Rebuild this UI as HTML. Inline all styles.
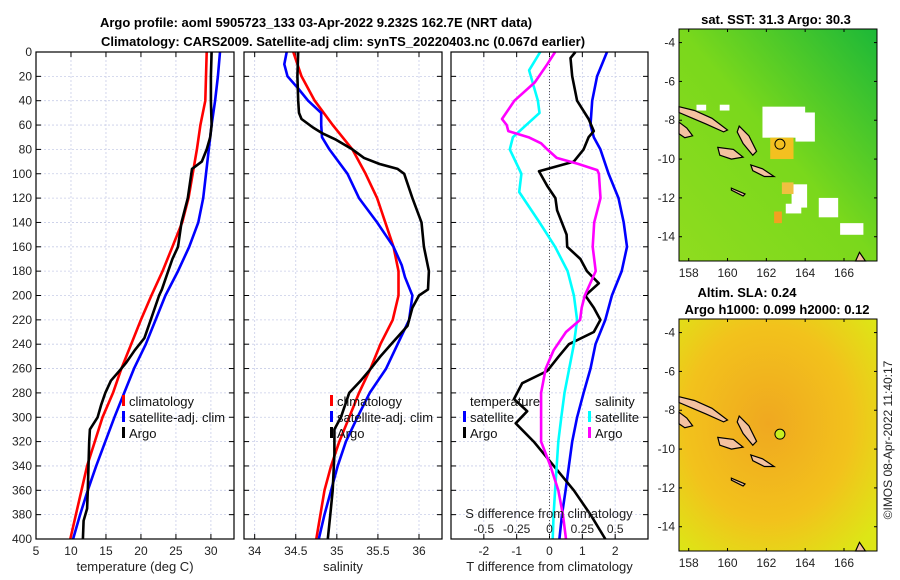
<!DOCTYPE html>
<html><head><meta charset="utf-8">
<style>
html,body{margin:0;padding:0;background:#fff;}
svg{display:block;font-family:"Liberation Sans","DejaVu Sans",sans-serif;}
.tk{font-size:12px;fill:#222;}
.ttl{font-size:13px;font-weight:bold;fill:#000;}
.lg{font-size:13px;fill:#111;}
</style></head>
<body>
<svg id="fig" width="900" height="580" viewBox="0 0 900 580" xmlns="http://www.w3.org/2000/svg">
<rect width="900" height="580" fill="#fff"/>
<text class="ttl" x="316" y="27" text-anchor="middle">Argo profile: aoml 5905723_133 03-Apr-2022 9.232S 162.7E (NRT data)</text>
<text class="ttl" x="343" y="46" text-anchor="middle">Climatology: CARS2009. Satellite-adj clim: synTS_20220403.nc (0.067d earlier)</text>
<g id="p1"></g>
<g id="p2"></g>
<g id="p3"></g>
<g id="m1"></g>
<g id="m2"></g>
<text x="892" y="440" transform="rotate(-90 892 440)" text-anchor="middle" style="font-size:12px;fill:#222">©IMOS 08-Apr-2022 11:40:17</text>
</svg>
<script>
// ---- data ----
const tClimDepth=[0,40,60,80,100,120,140,160,180,200,220,240,260,280,300,320,340,360,380,400];
const tClim=[29.4,29.2,28.5,28.0,27.4,26.8,25.9,24.5,23.1,21.5,20.0,18.6,17.2,16.0,14.5,13.4,12.3,11.5,10.7,9.9];
const tSatDepth=[0,20,40,60,80,100,120,140,160,180,200,220,240,260,280,300,320,340,360,380,400];
const tSat=[31.3,31.0,30.6,30.1,29.7,29.3,28.9,28.2,26.9,25.3,23.5,22.1,20.7,19.0,17.6,16.2,14.9,13.6,12.4,11.3,10.3];
const tArgoDepth=[0,20,40,60,70,80,90,96,100,120,140,160,170,180,195,200,220,235,245,255,262,270,280,290,300,310,320,340,360,375,385,400];
const tArgo=[30.1,30.0,30.0,30.1,29.9,29.4,28.7,27.3,27.2,26.7,25.8,25.3,24.5,23.9,23.0,22.6,21.4,20.5,19.1,17.9,16.9,15.7,14.9,14.3,13.8,12.7,12.6,12.5,12.4,12.3,11.8,11.7];
const sClimDepth=[0,20,40,60,80,100,120,140,160,180,200,220,240,260,280,300,320,340,360,380,400];
const sClim=[34.47,34.57,34.73,34.95,35.19,35.35,35.49,35.59,35.69,35.75,35.75,35.68,35.53,35.41,35.27,35.15,35.03,34.93,34.85,34.80,34.75];
const sSatDepth=[0,10,20,30,40,50,60,70,80,100,120,140,160,175,185,200,220,240,260,280,300,320,340,360,380,400];
const sSat=[34.39,34.36,34.40,34.53,34.65,34.81,34.81,34.82,34.91,35.13,35.27,35.49,35.69,35.79,35.83,35.92,35.88,35.74,35.60,35.40,35.25,35.11,35.01,34.93,34.85,34.78];
const sArgoDepth=[0,20,40,50,55,62,67,72,80,87,92,96,100,120,140,160,180,195,200,210,225,240,250,262,270,280,300,310,330,360,380,400];
const sArgo=[34.53,34.52,34.53,34.54,34.57,34.71,34.83,34.99,35.19,35.33,35.52,35.74,35.82,35.92,36.03,36.06,36.12,36.11,36.0,35.92,35.86,35.66,35.53,35.39,35.29,35.15,35.05,34.97,34.97,34.95,34.92,34.89];
const dtSatDepth=[0,20,40,60,70,80,100,120,140,160,180,200,220,240,260,280,300,320,340,360,380,400];
const dtSat=[1.75,1.45,1.30,1.25,1.35,1.55,1.80,2.1,2.26,2.36,2.2,1.9,1.7,1.4,1.25,1.04,0.84,0.69,0.59,0.49,0.38,0.30];
const dtArgoDepth=[0,5,20,40,55,65,70,80,90,98,110,120,130,150,160,170,180,190,200,210,220,230,240,250,262,272,285,295,305,320,340,360,380,400];
const dtArgo=[0.79,0.64,0.69,0.84,1.19,1.35,1.19,1.04,0.74,-0.32,-0.07,0.18,0.23,0.52,0.54,0.94,1.14,1.5,1.09,1.35,1.55,1.35,0.59,0.28,-0.07,-0.83,-1.08,-0.68,-1.03,-0.48,0.13,0.74,1.25,1.70];
const dsSatDepth=[0,15,40,50,70,80,100,115,140,160,180,200,220,240,260,280,300,320,340,360,380,400];
const dsSat=[-0.071,-0.155,-0.088,-0.076,-0.279,-0.302,-0.214,-0.231,-0.076,0.043,0.138,0.186,0.21,0.186,0.15,0.114,0.09,0.067,0.055,0.043,0.031,0.024];
const dsArgoDepth=[0,10,25,40,55,60,65,70,75,80,87,92,97,100,120,140,160,180,200,210,220,230,245,260,280,300,320,340,360,380,400];
const dsArgo=[0.043,-0.017,-0.112,-0.267,-0.362,-0.326,-0.314,-0.16,-0.064,-0.017,0.055,0.221,0.364,0.376,0.388,0.34,0.329,0.352,0.269,0.245,0.233,0.126,0.031,-0.029,-0.064,-0.064,-0.064,0.007,0.067,0.102,0.126];
const depthTicks=[0,20,40,60,80,100,120,140,160,180,200,220,240,260,280,300,320,340,360,380,400];
const tTicks=[5,10,15,20,25,30];
const sTicks=[34,34.5,35,35.5,36];
const sTickLabels=["34","34.5","35","35.5","36"];
const dTTicks=[-2,-1,0,1,2];
const dSTicks=[-0.5,-0.25,0,0.25,0.5];
const dSTickLabels=["-0.5","-0.25","0","0.25","0.5"];
const lonTicks=[158,160,162,164,166];
const latTicks=[-4,-6,-8,-10,-12,-14];
const argoLon=162.7, argoLat=-9.232;

const NS="http://www.w3.org/2000/svg";
function mk(tag,at,parent){const e=document.createElementNS(NS,tag);for(const k in at)e.setAttribute(k,at[k]);parent.appendChild(e);return e;}
const Y0=52,Y1=539;
const yD=d=>Y0+(Y1-Y0)*d/400;

function panel(g,x0,x1,xmin,xmax,xticks,xlabels,xtitle,showY,gridX){
  const xs=v=>x0+(x1-x0)*(v-xmin)/(xmax-xmin);
  depthTicks.forEach(d=>{
    const l=mk('line',{x1:x0,x2:x1,y1:yD(d),y2:yD(d),stroke:'#c8cde8','stroke-width':0.8,'stroke-dasharray':'2,2'},g);
    
    
    mk('line',{x1:x0,x2:x0+5,y1:yD(d),y2:yD(d),stroke:'#000'},g);
    mk('line',{x1:x1-5,x2:x1,y1:yD(d),y2:yD(d),stroke:'#000'},g);
    if(showY){const t=mk('text',{x:x0-4,y:yD(d)+4,'text-anchor':'end',class:'tk'},g);t.textContent=d;
      
      }
  });
  (gridX||xticks).forEach((v,i)=>{
    const l=mk('line',{x1:xs(v),x2:xs(v),y1:Y0,y2:Y1,stroke:'#c8cde8','stroke-width':0.8,'stroke-dasharray':'2,2'},g);
    
    
  });
  xticks.forEach((v,i)=>{
    mk('line',{x1:xs(v),x2:xs(v),y1:Y1,y2:Y1-5,stroke:'#000'},g);
    mk('line',{x1:xs(v),x2:xs(v),y1:Y0,y2:Y0+5,stroke:'#000'},g);
    const t=mk('text',{x:xs(v),y:555,'text-anchor':'middle',class:'tk'},g);t.textContent=xlabels[i];
    
    
  });
  const tt=mk('text',{x:(x0+x1)/2,y:571,'text-anchor':'middle',style:'font-size:13px;fill:#222'},g);tt.textContent=xtitle;
  
  
  return xs;
}
function frame(g,x0,x1){const r=mk('rect',{x:x0,y:Y0,width:x1-x0,height:Y1-Y0,fill:'none',stroke:'#000','stroke-width':1.2},g);
  
  }
function line(g,xs,vals,depths,color,name){
  const p=mk('polyline',{points:vals.map((v,i)=>xs(v).toFixed(1)+','+yD(depths[i]).toFixed(1)).join(' '),fill:'none',stroke:color,'stroke-width':2.6,'stroke-linejoin':'round'},g);
  
  
}
function legend(g,x,y,items){
  items.forEach((it,i)=>{
    mk('rect',{x:x,y:y+i*16-11,width:3,height:11,fill:it[0]},g);
    const t=mk('text',{x:x+7,y:y+i*16,class:'lg'},g);t.textContent=it[1];
    
    
  });
}
// panel 1
const g1=document.getElementById('p1');
const x1s=panel(g1,36,234,5,33.3,tTicks,tTicks.map(String),'temperature (deg C)',true,[10,15,20,25,30]);
line(g1,x1s,tClim,tClimDepth,'#ff0000','temp-climatology-line');
line(g1,x1s,tSat,tSatDepth,'#0000ff','temp-satellite-line');
line(g1,x1s,tArgo,tArgoDepth,'#000000','temp-argo-line');
frame(g1,36,234);
legend(g1,122,406,[['#ff0000','climatology'],['#0000ff','satellite-adj. clim'],['#000','Argo']]);
// panel 2
const g2=document.getElementById('p2');
const x2s=panel(g2,244,442,33.87,36.28,sTicks,sTickLabels,'salinity',false);
line(g2,x2s,sClim,sClimDepth,'#ff0000','sal-climatology-line');
line(g2,x2s,sSat,sSatDepth,'#0000ff','sal-satellite-line');
line(g2,x2s,sArgo,sArgoDepth,'#000000','sal-argo-line');
frame(g2,244,442);
legend(g2,330,406,[['#ff0000','climatology'],['#0000ff','satellite-adj. clim'],['#000','Argo']]);
// panel 3
const g3=document.getElementById('p3');
const x3s=panel(g3,451,648,-3,3,dTTicks,dTTicks.map(String),'T difference from climatology',false);
const sScale=v=>v*4;
const zl=mk('line',{x1:x3s(0),x2:x3s(0),y1:Y0,y2:Y1,stroke:'#555','stroke-dasharray':'1,2'},g3);


line(g3,x3s,dtSat,dtSatDepth,'#0000ff','dT-satellite-line');
line(g3,x3s,dtArgo,dtArgoDepth,'#000000','dT-argo-line');
line(g3,v=>x3s(sScale(v)),dsSat,dsSatDepth,'#00ffff','dS-satellite-line');
line(g3,v=>x3s(sScale(v)),dsArgo,dsArgoDepth,'#ff00ff','dS-argo-line');
frame(g3,451,648);
const tt3=mk('text',{x:470,y:406,class:'lg'},g3);tt3.textContent='temperature';


legend(g3,463,422,[['#0000ff','satellite'],['#000','Argo']]);
const st3=mk('text',{x:595,y:406,class:'lg'},g3);st3.textContent='salinity';


legend(g3,588,422,[['#00ffff','satellite'],['#ff00ff','Argo']]);
const sd=mk('text',{x:549,y:518,'text-anchor':'middle',style:'font-size:13px;fill:#222'},g3);sd.textContent='S difference from climatology';


dSTicks.forEach((v,i)=>{const t=mk('text',{x:x3s(sScale(v)),y:533,'text-anchor':'middle',class:'tk'},g3);t.textContent=dSTickLabels[i];
  
  });

// maps
const MX0=679,MX1=877,LON0=157.5,LON1=167.7,LAT0=-3.3,LAT1=-15.25;
function map(g,top,title,kind){
  const bot=top+232;
  const lx=v=>MX0+(MX1-MX0)*(v-LON0)/(LON1-LON0);
  const ly=v=>top+(bot-top)*(v-LAT0)/(LAT1-LAT0);
  const id='grad'+kind;
  const defs=mk('defs',{},g);
  if(kind==='sst'){
    const lg=mk('linearGradient',{id:id,x1:0,y1:1,x2:1,y2:0},defs);
    mk('stop',{offset:0,'stop-color':'#8fdc1f'},lg);mk('stop',{offset:0.5,'stop-color':'#7ad81c'},lg);mk('stop',{offset:1,'stop-color':'#1cb838'},lg);
  } else {
    const rg=mk('radialGradient',{id:id,cx:0.45,cy:0.45,r:0.7},defs);
    mk('stop',{offset:0,'stop-color':'#f0a820'},rg);mk('stop',{offset:0.6,'stop-color':'#f2c21c'},rg);mk('stop',{offset:1,'stop-color':'#dde616'},rg);
  }
  const bg=mk('rect',{x:MX0,y:top,width:MX1-MX0,height:bot-top,fill:'url(#'+id+')'},g);
  
  
  if(kind==='sst'){
    [[161.8,-7.3,2.2,1.6,'#fff'],[163.5,-7.6,1.0,1.5,'#fff'],[162.2,-8.9,1.2,1.1,'#f3c020'],[163.3,-11.3,0.8,1.2,'#fff'],[164.7,-12.0,1.0,1.0,'#fff'],[165.8,-13.3,1.2,0.6,'#fff'],[162.8,-11.2,0.6,0.6,'#f0c040'],[162.4,-12.7,0.4,0.6,'#f4a020'],[158.4,-7.2,0.5,0.3,'#fff'],[159.6,-7.2,0.5,0.3,'#fff'],[163.0,-12.3,0.8,0.5,'#fff']].forEach(p=>{
      const r=mk('rect',{x:lx(p[0]),y:ly(p[1]),width:p[2]*19.4,height:p[3]*19.4,fill:p[4]},g);
      
      
    });
  }
  // islands
  const isl=[[[157.5,-7.3],[158.3,-7.5],[159.2,-7.9],[160.0,-8.5],[159.8,-8.6],[158.9,-8.2],[158.2,-7.9],[157.5,-7.6]],
             [[159.5,-9.4],[160.3,-9.5],[160.8,-9.9],[160.2,-10.0],[159.6,-9.8]],
             [[160.6,-8.3],[161.1,-8.8],[161.5,-9.6],[161.3,-9.8],[160.8,-9.2],[160.5,-8.6]],
             [[161.2,-10.3],[161.8,-10.5],[162.4,-10.9],[161.9,-10.9],[161.3,-10.6]],
             [[157.5,-8.1],[157.9,-8.4],[158.2,-8.8],[157.8,-8.9],[157.5,-8.7]],
             [[160.2,-11.5],[160.9,-11.8],[160.8,-11.9],[160.2,-11.6]],
             [[166.6,-15.25],[166.8,-14.8],[167.1,-15.25]]];
  isl.forEach(poly=>{
    const p=mk('polygon',{points:poly.map(q=>lx(q[0]).toFixed(1)+','+ly(q[1]).toFixed(1)).join(' '),fill:'#f4c2a0',stroke:'#000','stroke-width':1.2},g);
    
    
  });
  const c=mk('circle',{cx:lx(argoLon),cy:ly(argoLat),r:5,fill:kind==='sst'?'none':'#c8f020',stroke:'#000','stroke-width':1},g);
  
  
  const fr=mk('rect',{x:MX0,y:top,width:MX1-MX0,height:bot-top,fill:'none',stroke:'#000'},g);
  
  
  lonTicks.forEach(v=>{
    mk('line',{x1:lx(v),x2:lx(v),y1:bot,y2:bot-3,stroke:'#000'},g);
    mk('line',{x1:lx(v),x2:lx(v),y1:top,y2:top+3,stroke:'#000'},g);
    const t=mk('text',{x:lx(v),y:bot+16,'text-anchor':'middle',class:'tk'},g);t.textContent=v;
    
    
  });
  latTicks.forEach(v=>{
    mk('line',{x1:MX0,x2:MX0+3,y1:ly(v),y2:ly(v),stroke:'#000'},g);
    mk('line',{x1:MX1,x2:MX1-3,y1:ly(v),y2:ly(v),stroke:'#000'},g);
    const t=mk('text',{x:MX0-4,y:ly(v)+4,'text-anchor':'end',class:'tk'},g);t.textContent=v;
    
    
  });
  title.forEach((s,i)=>{const t=mk('text',{x:s[1],y:top-(title.length-i)*17+12,'text-anchor':'middle',class:'ttl'},g);t.textContent=s[0];
    
    });
}
map(document.getElementById('m1'),29,[['sat. SST: 31.3 Argo: 30.3',776]],'sst');
map(document.getElementById('m2'),319,[['Altim. SLA: 0.24',747],['Argo h1000: 0.099 h2000: 0.12',777]],'sla');
</script>
</body></html>
